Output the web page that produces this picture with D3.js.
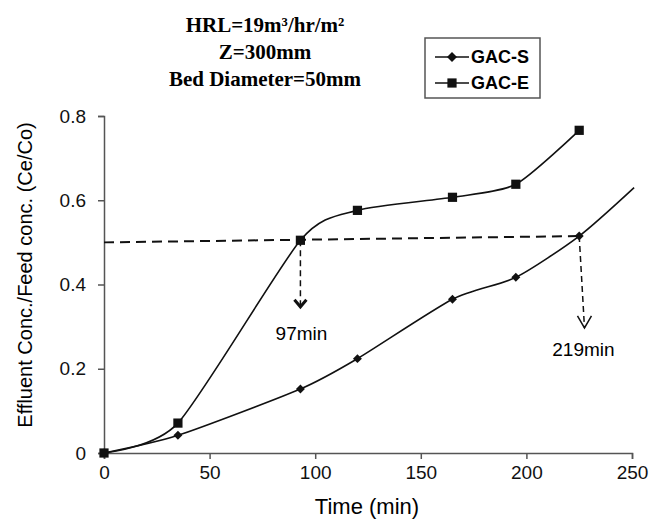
<!DOCTYPE html>
<html>
<head>
<meta charset="utf-8">
<script src="https://cdn.jsdelivr.net/npm/d3@7"></script>
<style>
  body { margin: 0; background: #fff; }
  svg { display: block; }
</style>
</head>
<body>
<svg width="652" height="523"></svg>
<script>
// data
var timeS = [0, 35, 93, 120, 165, 195, 225, 251];
var valS  = [0, 0.042, 0.152, 0.224, 0.365, 0.417, 0.515, 0.63];
var markedS = 7; // last point is line only
var timeE = [0, 35, 93, 120, 165, 195, 225];
var valE  = [0, 0.071, 0.505, 0.576, 0.607, 0.638, 0.766];
var xTicks = [0, 50, 100, 150, 200, 250];
var yTicks = [0, 0.2, 0.4, 0.6, 0.8];
var titleLines = ["HRL=19m\u00b3/hr/m\u00b2", "Z=300mm", "Bed Diameter=50mm"];
var legendNames = ["GAC-S", "GAC-E"];
// breakthrough annotations: start point, arrow tip, label
var arrowStart = [[93, 0.505], [225, 0.515]];
var arrowEnd   = [[93, 0.347], [227.5, 0.297]];
var arrowLabel = ["97min", "219min"];
var arrowLabelAt = [[93.5, 0.268], [227, 0.23]];
var halfLine = [[0, 0.5], [225, 0.515]];

var svg = d3.select("svg");
var x = d3.scaleLinear().domain([0, 250]).range([104, 632]);
var y = d3.scaleLinear().domain([0, 0.8]).range([453, 116]);
var axisColor = "#555";
var sans = "'Liberation Sans', Arial, sans-serif";

// title
svg.selectAll("text.title").data(titleLines).enter()
  .append("text")
  .attr("class", "title")
  .attr("x", 265)
  .attr("y", function(d, i) { return 32 + i * 27; })
  .attr("text-anchor", "middle")
  .style("font-family", "'Liberation Serif', 'Times New Roman', serif")
  .style("font-weight", "bold")
  .style("font-size", "21px")
  .text(function(d) { return d; });

// axes
var xAxis = svg.append("g")
  .attr("transform", "translate(0," + y(0) + ")")
  .call(d3.axisBottom(x).tickValues(xTicks).tickSize(6).tickPadding(7).tickFormat(d3.format("d")));
var yAxis = svg.append("g")
  .attr("transform", "translate(" + x(0) + ",0)")
  .call(d3.axisLeft(y).tickValues(yTicks).tickSize(6).tickPadding(12).tickFormat(function(d) { return d === 0 ? "0" : d3.format(".1f")(d); }));
[xAxis, yAxis].forEach(function(a) {
  a.select(".domain").attr("stroke", axisColor).attr("stroke-width", 1.5);
  a.selectAll(".tick line").attr("stroke", axisColor).attr("stroke-width", 1.5);
  a.selectAll(".tick text")
    .attr("fill", "#111")
    .style("font-family", sans)
    .style("font-size", "19px");
});

// axis titles
svg.append("text")
  .attr("x", 367).attr("y", 514)
  .attr("text-anchor", "middle")
  .style("font-family", sans)
  .style("font-size", "22px")
  .text("Time (min)");
svg.append("text")
  .attr("transform", "translate(32,275) rotate(-90)")
  .attr("text-anchor", "middle")
  .style("font-family", sans)
  .style("font-size", "20px")
  .text("Effluent Conc./Feed conc. (Ce/Co)");

// dashed 0.5 line and arrows
svg.append("line")
  .attr("x1", x(halfLine[0][0])).attr("y1", y(halfLine[0][1]))
  .attr("x2", x(halfLine[1][0])).attr("y2", y(halfLine[1][1]))
  .attr("stroke", "#111").attr("stroke-width", 2)
  .attr("stroke-dasharray", "10,6");

arrowStart.forEach(function(s, i) {
  var e = arrowEnd[i];
  svg.append("line")
    .attr("x1", x(s[0])).attr("y1", y(s[1]))
    .attr("x2", x(e[0])).attr("y2", y(e[1]))
    .attr("stroke", "#111").attr("stroke-width", 1.5)
    .attr("stroke-dasharray", "6,4");
  var w = i === 0 ? 6 : 7, h = i === 0 ? 7 : 12;
  svg.append("path")
    .attr("d", "M" + (x(e[0]) - w) + "," + (y(e[1]) - h) + "L" + x(e[0]) + "," + y(e[1]) + "L" + (x(e[0]) + w) + "," + (y(e[1]) - h))
    .attr("fill", "none")
    .attr("stroke", "#111")
    .attr("stroke-width", i === 0 ? 3 : 1.5);
  svg.append("text")
    .attr("x", x(arrowLabelAt[i][0])).attr("y", y(arrowLabelAt[i][1]))
    .attr("text-anchor", "middle")
    .style("font-family", sans)
    .style("font-size", "19px")
    .text(arrowLabel[i]);
});

// curves
var line = d3.line()
  .x(function(d) { return x(d[0]); })
  .y(function(d) { return y(d[1]); })
  .curve(d3.curveCardinal.tension(0.3));
var ptsS = timeS.map(function(t, i) { return [t, valS[i]]; });
var ptsE = timeE.map(function(t, i) { return [t, valE[i]]; });
[ptsS, ptsE].forEach(function(p) {
  svg.append("path")
    .attr("d", line(p))
    .attr("fill", "none")
    .attr("stroke", "#111")
    .attr("stroke-width", 1.6);
});

// diamond = square turned 45 degrees
var diamond = d3.symbol().type(d3.symbolSquare).size(40);
var square = d3.symbol().type(d3.symbolSquare).size(85);
svg.selectAll("path.ms").data(ptsS.slice(0, markedS)).enter()
  .append("path").attr("class", "ms")
  .attr("d", diamond)
  .attr("transform", function(d) { return "translate(" + x(d[0]) + "," + y(d[1]) + ") rotate(45)"; })
  .attr("fill", "#111");
svg.selectAll("path.me").data(ptsE).enter()
  .append("path").attr("class", "me")
  .attr("d", square)
  .attr("transform", function(d) { return "translate(" + x(d[0]) + "," + y(d[1]) + ")"; })
  .attr("fill", "#111");

// legend
var lg = svg.append("g").attr("transform", "translate(425,38)");
lg.append("rect")
  .attr("width", 115).attr("height", 60)
  .attr("fill", "#fff")
  .attr("stroke", "#555").attr("stroke-width", 1.5);
legendNames.forEach(function(name, i) {
  var cy = 19 + i * 26;
  lg.append("line")
    .attr("x1", 10).attr("x2", 44).attr("y1", cy).attr("y2", cy)
    .attr("stroke", "#111").attr("stroke-width", 1.6);
  lg.append("path")
    .attr("d", i === 0 ? d3.symbol().type(d3.symbolSquare).size(50) : square)
    .attr("transform", "translate(27," + cy + ")" + (i === 0 ? " rotate(45)" : ""))
    .attr("fill", "#111");
  lg.append("text")
    .attr("x", 46).attr("y", cy + 6)
    .style("font-family", sans)
    .style("font-weight", "bold")
    .style("font-size", "18px")
    .text(name);
});
</script>
</body>
</html>
